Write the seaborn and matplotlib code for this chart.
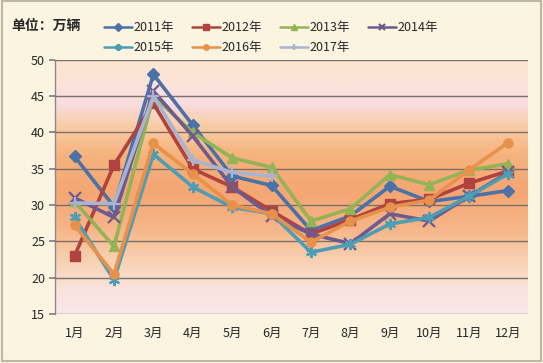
import numpy as np
import pandas as pd
import matplotlib
matplotlib.use("Agg")
import matplotlib.pyplot as plt
from matplotlib.colors import LinearSegmentedColormap
from matplotlib.patches import Rectangle
import seaborn as sns

# Monthly sales, unit: 10k vehicles
months = ["1月", "2月", "3月", "4月", "5月", "6月", "7月", "8月", "9月", "10月", "11月", "12月"]
years = ["2011年", "2012年", "2013年", "2014年", "2015年", "2016年", "2017年"]
s2011 = [36.7, 29.8, 48.0, 41.0, 34.0, 32.7, 26.5, 28.5, 32.6, 30.5, 31.2, 32.0]
s2012 = [23.0, 35.5, 44.0, 35.0, 32.5, 29.2, 26.0, 28.0, 30.2, 30.8, 33.0, 34.7]
s2013 = [30.5, 24.3, 45.0, 40.0, 36.5, 35.2, 27.8, 29.5, 34.2, 32.8, 34.8, 35.7]
s2014 = [31.0, 28.3, 45.7, 39.5, 32.5, 28.5, 26.0, 24.7, 28.8, 27.8, 31.2, 34.5]
s2015 = [28.3, 19.7, 37.0, 32.5, 29.7, 28.8, 23.5, 24.6, 27.4, 28.3, 31.2, 34.3]
s2016 = [27.2, 20.5, 38.5, 34.3, 30.0, 28.8, 24.9, 27.8, 29.7, 30.7, 34.8, 38.6]
s2017 = [30.3, 30.2, 45.0, 36.2, 34.5, 34.0]

series = [s2011, s2012, s2013, s2014, s2015, s2016, s2017]
colors = ["#4A71A8", "#B0433F", "#94B356", "#6E5A8E", "#4D9DB4", "#E8914A", "#A9B3D3"]
markers = ["D", "s", "^", "x", (6, 2, 0), "o", "+"]

rows = []
for yr, vals in zip(years, series):
    for i, v in enumerate(vals):
        rows.append({"year": yr, "month": i, "value": v})
df = pd.DataFrame(rows)

sns.set_theme(style="white")
plt.rcParams["font.family"] = ["Noto Sans CJK SC", "DejaVu Sans"]

fig = plt.figure(figsize=(5.43, 3.63), dpi=100)
fig.patch.set_facecolor("#FAF4E0")
ax = fig.add_axes([0.101, 0.135, 0.871, 0.700])

# gradient background of plot area (bottom -> top)
grad = LinearSegmentedColormap.from_list("bg", [
    (0.00, "#FBE8EA"),
    (0.10, "#FAE2DC"),
    (0.22, "#F8CFAE"),
    (0.34, "#F6B487"),
    (0.48, "#F4A673"),
    (0.62, "#F6B27C"),
    (0.74, "#F8CDA6"),
    (0.83, "#FADCE2"),
    (0.90, "#FBE3DA"),
    (1.00, "#FBE6CE"),
])
ax.imshow(np.linspace(0, 1, 256).reshape(-1, 1), cmap=grad, aspect="auto",
          extent=[-0.5, 11.5, 15, 50], origin="lower", zorder=0)

for yr, col, mk in zip(years, colors, markers):
    sub = df[df["year"] == yr]
    filled = mk not in ("x", "+") and not isinstance(mk, tuple)
    sns.lineplot(data=sub, x="month", y="value", ax=ax, color=col, lw=2.6,
                 marker=mk, markersize=6.5 if filled else 8,
                 markeredgewidth=1.0 if filled else 1.6,
                 markeredgecolor=col, label=yr, zorder=3)

ax.set_xlim(-0.5, 11.5)
ax.set_ylim(15, 50)
ax.set_yticks(range(15, 51, 5))
ax.set_xticks(range(12))
ax.set_xticklabels(months, fontsize=9)
ax.tick_params(axis="y", labelsize=9, length=4, color="#808080", left=True, pad=3)
ax.tick_params(axis="x", length=0, pad=9)
ax.set_xlabel("")
ax.set_ylabel("")
ax.yaxis.grid(True, color="#7A7068", lw=1.0)
ax.set_axisbelow(False)
for g in ax.get_ygridlines():
    g.set_zorder(1)
for side in ["top", "right", "bottom"]:
    ax.spines[side].set_visible(False)
ax.spines["left"].set_color("#8A8A8A")
ax.spines["left"].set_linewidth(1.0)

handles, labels = ax.get_legend_handles_labels()
ax.get_legend().remove()
order = [0, 4, 1, 5, 2, 6, 3]
leg = fig.legend([handles[i] for i in order], [labels[i] for i in order],
                 loc="upper left", bbox_to_anchor=(0.183, 0.955), ncol=4, frameon=False,
                 fontsize=9, handlelength=2.2, handletextpad=0.15, columnspacing=1.45,
                 labelspacing=0.55, borderaxespad=0, markerscale=0.6)
for h in leg.legend_handles:
    h.set_linewidth(1.8)

fig.text(0.02, 0.928, "单位：万辆", fontsize=10, fontweight="bold", va="center")

fig.patches.append(Rectangle((0.004, 0.006), 0.992, 0.99, transform=fig.transFigure,
                             fill=False, edgecolor="#BDB7A6", lw=1.5))

fig.savefig("out.png", dpi=100, facecolor=fig.get_facecolor())
